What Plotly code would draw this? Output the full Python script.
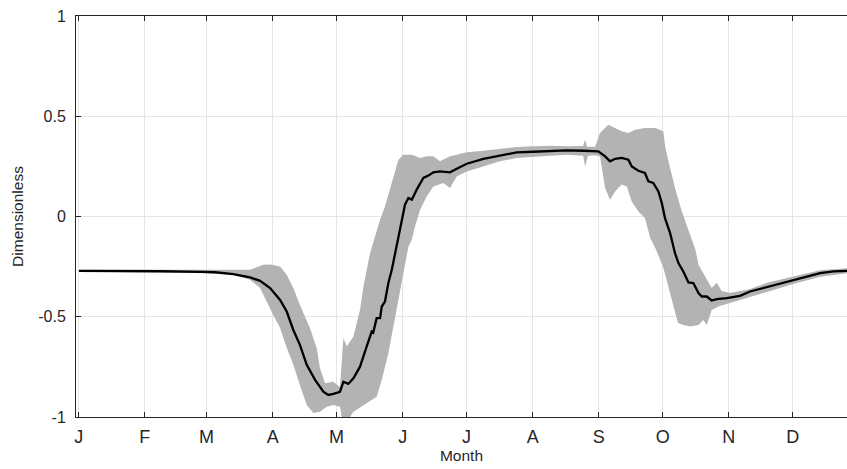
import plotly.graph_objects as go

# Day-of-year (leap year) for month starts and their labels
month_days = [1, 32, 61, 92, 122, 153, 183, 214, 245, 275, 306, 336]
month_labels = ["J", "F", "M", "A", "M", "J", "J", "A", "S", "O", "N", "D"]

# Mean curve
mean_day = [1.1, 20.4, 39.2, 57.9, 65.0, 73.5, 81.4, 86.1, 90.8, 95.5, 98.6, 101.7, 104.8, 108.0,
            111.9, 115.8, 118.1, 120.5, 123.6, 125.2, 127.5, 129.9, 133.0, 136.1, 138.5, 139.2,
            140.8, 142.4, 143.2, 144.7, 146.3, 147.9, 149.4, 151.0, 152.6, 154.1, 155.7, 157.3,
            159.6, 162.7, 165.1, 167.4, 170.5, 175.2, 179.1, 183.1, 190.9, 198.7, 206.5, 214.3,
            222.2, 230.0, 237.8, 241.7, 244.8, 248.0, 250.3, 252.7, 255.8, 258.9, 260.5, 263.6,
            266.7, 268.3, 270.6, 273.0, 274.6, 276.1, 278.5, 280.8, 282.4, 284.7, 287.1, 289.4,
            291.8, 293.4, 295.7, 298.0, 300.4, 305.1, 311.3, 316.0, 323.9, 331.6, 336.3, 342.6,
            348.9, 355.1, 361.5]
mean_val = [-0.271, -0.271, -0.273, -0.276, -0.278, -0.287, -0.304, -0.321, -0.357, -0.416, -0.474,
            -0.566, -0.640, -0.740, -0.815, -0.874, -0.890, -0.885, -0.874, -0.824, -0.835, -0.807,
            -0.749, -0.649, -0.574, -0.579, -0.507, -0.507, -0.449, -0.424, -0.332, -0.266, -0.183,
            -0.100, -0.008, 0.059, 0.092, 0.084, 0.134, 0.192, 0.204, 0.220, 0.225, 0.220, 0.242,
            0.263, 0.287, 0.303, 0.320, 0.323, 0.328, 0.330, 0.328, 0.328, 0.325, 0.300, 0.275,
            0.288, 0.292, 0.283, 0.250, 0.228, 0.217, 0.175, 0.167, 0.125, 0.067, -0.008, -0.083,
            -0.183, -0.232, -0.274, -0.329, -0.332, -0.382, -0.399, -0.399, -0.419, -0.412, -0.407,
            -0.396, -0.374, -0.352, -0.332, -0.319, -0.299, -0.282, -0.274, -0.271]

# Upper edge of the spread band
upper_day = [1.1, 57.9, 69.7, 76.7, 81.4, 85.1, 87.6, 90.8, 95.5, 98.6, 101.7, 104.8, 109.5, 112.7,
             114.2, 116.6, 120.3, 123.6, 125.2, 126.8, 129.9, 133.0, 134.6, 137.7, 140.0, 142.4,
             144.7, 147.1, 149.4, 151.0, 153.3, 157.3, 161.2, 164.3, 167.4, 170.5, 175.2, 183.1,
             190.9, 198.7, 206.5, 214.3, 222.2, 230.0, 237.7, 238.6, 239.5, 243.3, 245.6, 249.5,
             252.7, 255.8, 258.9, 262.1, 266.7, 271.6, 275.3, 276.3, 278.5, 280.8, 284.0, 285.7,
             288.0, 290.4, 291.8, 295.7, 298.0, 300.4, 302.7, 306.6, 316.0, 323.9, 336.2, 348.9,
             361.5]
upper_val = [-0.266, -0.268, -0.268, -0.266, -0.266, -0.251, -0.241, -0.239, -0.249, -0.291, -0.357,
             -0.441, -0.556, -0.657, -0.755, -0.832, -0.824, -0.849, -0.607, -0.649, -0.599, -0.466,
             -0.349, -0.183, -0.100, -0.016, 0.050, 0.134, 0.217, 0.283, 0.308, 0.308, 0.292, 0.300,
             0.300, 0.275, 0.300, 0.320, 0.328, 0.337, 0.347, 0.350, 0.353, 0.350, 0.351, 0.383,
             0.348, 0.348, 0.417, 0.458, 0.442, 0.425, 0.417, 0.433, 0.442, 0.442, 0.425, 0.342,
             0.242, 0.142, 0.025, -0.025, -0.091, -0.166, -0.241, -0.316, -0.356, -0.331, -0.371,
             -0.382, -0.362, -0.331, -0.299, -0.268, -0.258]

# Lower edge of the spread band
lower_day = [1.1, 57.9, 73.4, 81.4, 86.1, 89.2, 92.3, 95.5, 98.6, 101.7, 104.8, 108.0, 111.1, 114.2,
             117.4, 120.5, 123.6, 125.2, 127.4, 129.9, 136.1, 140.8, 143.2, 146.3, 148.6, 151.0,
             153.3, 155.7, 157.3, 158.8, 161.2, 164.3, 167.4, 172.1, 175.2, 178.4, 183.1, 190.9,
             198.7, 206.5, 214.3, 222.2, 230.0, 237.7, 238.6, 240.0, 243.3, 245.6, 248.0, 250.3,
             252.7, 255.8, 258.2, 260.5, 263.6, 266.7, 269.2, 271.6, 275.2, 279.4, 282.2, 284.7,
             288.0, 291.8, 294.1, 295.7, 298.0, 301.1, 305.1, 311.3, 316.0, 323.9, 336.2, 348.9,
             361.5]
lower_val = [-0.276, -0.281, -0.291, -0.316, -0.356, -0.424, -0.491, -0.556, -0.655, -0.740, -0.840,
             -0.940, -0.980, -0.974, -0.949, -0.940, -0.949, -1.040, -1.015, -0.974, -0.932, -0.899,
             -0.815, -0.682, -0.549, -0.416, -0.282, -0.150, -0.116, -0.050, 0.034, 0.100, 0.150,
             0.167, 0.142, 0.200, 0.225, 0.250, 0.275, 0.292, 0.297, 0.303, 0.308, 0.303, 0.250,
             0.303, 0.306, 0.300, 0.142, 0.084, 0.125, 0.159, 0.150, 0.075, 0.025, -0.008, -0.108,
             -0.158, -0.251, -0.416, -0.531, -0.541, -0.549, -0.541, -0.516, -0.541, -0.466, -0.449,
             -0.436, -0.419, -0.402, -0.376, -0.337, -0.301, -0.283]

y_ticks = [-1, -0.5, 0, 0.5, 1]
y_tick_text = ["-1", "-0.5", "0", "0.5", "1"]

FONT = "Liberation Sans, Arial, Helvetica, sans-serif"
AX = "#262626"
GRID = "#E5E5E5"

fig = go.Figure()
fig.add_trace(go.Scatter(
    x=upper_day + lower_day[::-1],
    y=upper_val + lower_val[::-1],
    fill="toself", fillcolor="#B3B3B3", mode="lines",
    line=dict(width=0, color="#B3B3B3"), hoverinfo="skip", showlegend=False))
fig.add_trace(go.Scatter(
    x=mean_day, y=mean_val, mode="lines",
    line=dict(color="black", width=2.3), showlegend=False))

fig.update_layout(
    width=847, height=469,
    margin=dict(l=76, r=0, t=16, b=52),
    paper_bgcolor="white", plot_bgcolor="white",
    font=dict(family=FONT, color=AX),
    xaxis=dict(
        range=[-0.27, 361.5], tickmode="array", tickvals=month_days, ticktext=month_labels,
        ticks="inside", ticklen=5, tickcolor=AX, tickwidth=1,
        showline=True, linecolor=AX, linewidth=1, mirror="allticks",
        showgrid=True, gridcolor=GRID, gridwidth=1, zeroline=False,
        tickfont=dict(size=18, color=AX), ticklabelstandoff=3,
        title=dict(text="Month", font=dict(size=15.5, color=AX), standoff=0),
    ),
    yaxis=dict(
        range=[-1, 1], tickmode="array", tickvals=y_ticks, ticktext=y_tick_text,
        ticks="inside", ticklen=5, tickcolor=AX, tickwidth=1,
        showline=True, linecolor=AX, linewidth=1, mirror=False,
        showgrid=True, gridcolor=GRID, gridwidth=1, zeroline=False,
        tickfont=dict(size=16, color=AX), ticklabelstandoff=6,
        title=dict(text="Dimensionless", font=dict(size=15.5, color=AX), standoff=10),
    ),
)

fig.write_html("out.html")
